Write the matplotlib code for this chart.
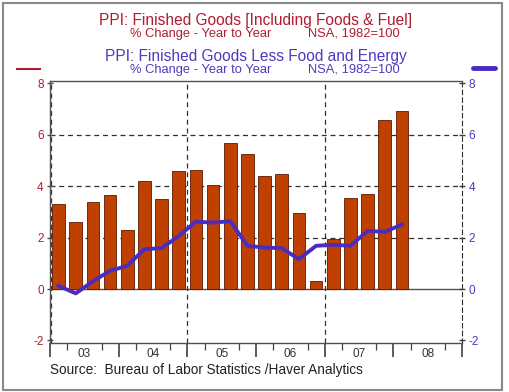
import matplotlib
matplotlib.use("Agg")
import matplotlib.pyplot as plt
from matplotlib.patches import Rectangle
from matplotlib.transforms import blended_transform_factory

plt.rcParams['font.family'] = ['Liberation Sans', 'DejaVu Sans']

# quarterly data, 2003Q1 .. 2008Q1
quarters = [2003 + 0.125 + 0.25 * i for i in range(21)]
ppi_total = [3.31, 2.60, 3.37, 3.64, 2.28, 4.20, 3.51, 4.59, 4.62, 4.05, 5.66,
             5.24, 4.39, 4.49, 2.95, 0.32, 1.93, 3.54, 3.71, 6.56, 6.94]
ppi_core = [0.12, -0.17, 0.30, 0.71, 0.90, 1.55, 1.59, 2.06, 2.62, 2.58, 2.64,
            1.68, 1.61, 1.59, 1.16, 1.68, 1.72, 1.68, 2.26, 2.22, 2.51]
years = [2003, 2004, 2005, 2006, 2007, 2008]
year_labels = ['03', '04', '05', '06', '07', '08']
yticks = [-2, 0, 2, 4, 6, 8]

red = '#b01c30'
blue = '#4a3cc0'
bar_col = '#c04000'
line_col = '#4a2cc0'
grid_col = '#303030'

fig = plt.figure(figsize=(5.10, 3.92), dpi=100)
fig.patch.set_facecolor('white')

# outer frame
fig.add_artist(Rectangle((3 / 510, 2 / 392), 499 / 510, 387 / 392, transform=fig.transFigure,
                         fill=False, edgecolor='#8a8a8a', linewidth=1.5))

ax = fig.add_axes([50 / 510, 1 - 343 / 392, 412 / 510, 262 / 392])
ax.set_xlim(2003, 2009)
ax.set_ylim(-2.1, 8.09)

# grid
for yv in [2, 4, 6]:
    ax.axhline(yv, color=grid_col, lw=0.9, ls=(0, (4, 3)), zorder=1)
ax.axhline(0, color='#505050', lw=1.0, zorder=1)
for xv in [2003.02, 2005, 2007]:
    ax.axvline(xv, color=grid_col, lw=0.9, ls=(0, (4, 3)), zorder=1)

ax.bar(quarters, ppi_total, width=0.185, color=bar_col, edgecolor='#5a1a00',
       linewidth=0.6, zorder=2)
ax.plot(quarters, ppi_core, color=line_col, lw=2.8, zorder=3, solid_joinstyle='round')

for s in ['top', 'bottom', 'left']:
    ax.spines[s].set_color('#505050')
    ax.spines[s].set_linewidth(1.0)
ax.spines['right'].set_linestyle((0, (4, 3)))
ax.spines['right'].set_color(grid_col)

ax.set_yticks(yticks)
ax.set_yticklabels([str(v) for v in yticks], color=red, fontsize=8.5)
ax.tick_params(axis='y', direction='inout', length=5, width=1, color='#505050', pad=2)

ax.set_xticks(years + [2009])
ax.set_xticklabels([])
ax.set_xticks([y + q for y in years for q in (0.25, 0.75)], minor=True)
ax.tick_params(axis='x', which='major', direction='out', length=10, width=1.2, color='#404040')
ax.tick_params(axis='x', which='minor', direction='out', length=5, width=0.9, color='#404040')

trans = blended_transform_factory(ax.transData, ax.transAxes)
for y, lab in zip(years, year_labels):
    ax.text(y + 0.5, -0.042, lab, transform=trans, ha='center', va='center',
            fontsize=8.5, color='#333333')

ax2 = ax.twinx()
ax2.set_ylim(ax.get_ylim())
ax2.set_yticks(yticks)
ax2.set_yticklabels([str(v) for v in yticks], color=blue, fontsize=8.5)
ax2.tick_params(axis='y', direction='inout', length=5, width=1, color='#404040', pad=2)
for s in ax2.spines.values():
    s.set_visible(False)

# titles
fig.text(256 / 510, 1 - 20 / 392, 'PPI: Finished Goods [Including Foods & Fuel]',
         ha='center', va='center', color=red, fontsize=11.2)
fig.text(201 / 510, 1 - 33.5 / 392, '% Change - Year to Year', ha='center', va='center',
         color=red, fontsize=9.3)
fig.text(354 / 510, 1 - 33.5 / 392, 'NSA, 1982=100', ha='center', va='center',
         color=red, fontsize=9.3)
fig.text(256 / 510, 1 - 56 / 392, 'PPI: Finished Goods Less Food and Energy',
         ha='center', va='center', color=blue, fontsize=11.2)
fig.text(201 / 510, 1 - 69.5 / 392, '% Change - Year to Year', ha='center', va='center',
         color=blue, fontsize=9.3)
fig.text(354 / 510, 1 - 69.5 / 392, 'NSA, 1982=100', ha='center', va='center',
         color=blue, fontsize=9.3)

# series keys
fig.add_artist(plt.Line2D([17 / 510, 40 / 510], [1 - 69 / 392] * 2, color=red, lw=1.5))
fig.add_artist(plt.Line2D([473 / 510, 495 / 510], [1 - 68 / 392] * 2, color=line_col,
                          lw=3.5, solid_capstyle='round'))

fig.text(50 / 510, 1 - 370 / 392, 'Source:  Bureau of Labor Statistics /Haver Analytics',
         ha='left', va='center', color='#222222', fontsize=9.8)

fig.savefig('out.png', dpi=100, facecolor='white')
